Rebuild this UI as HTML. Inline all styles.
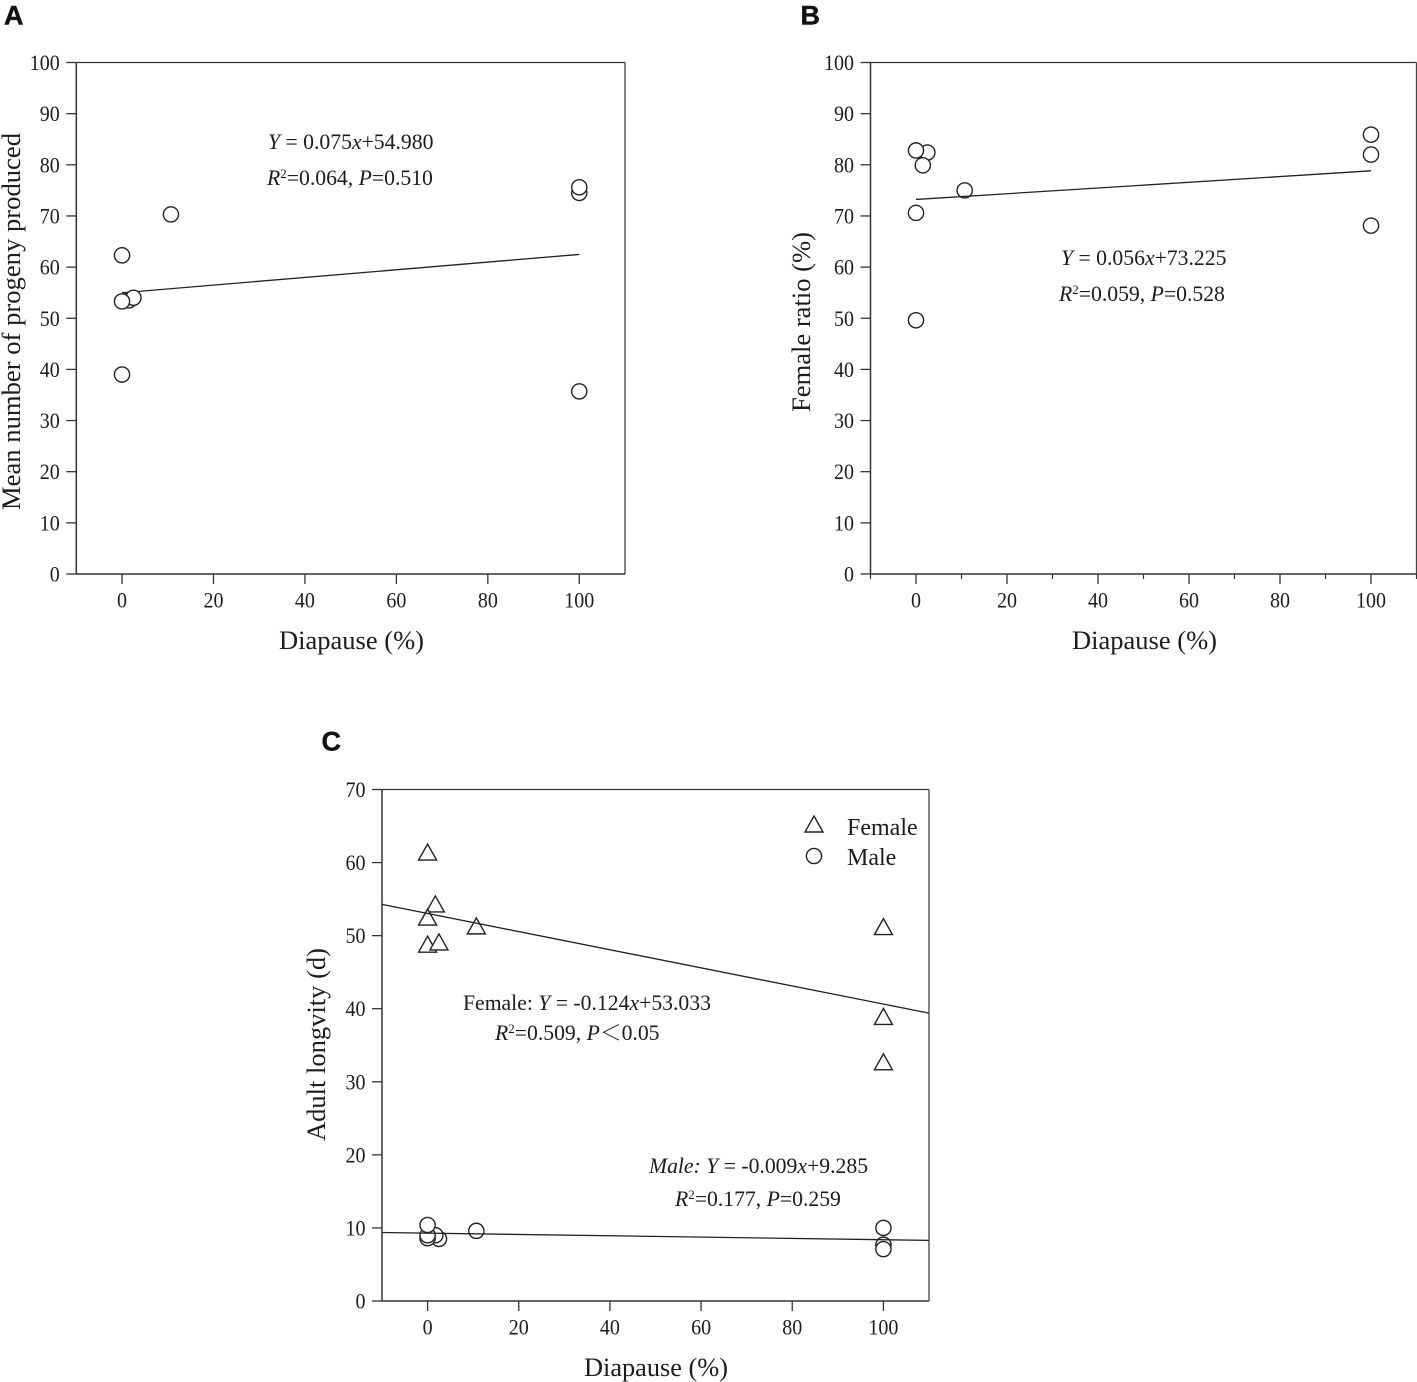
<!DOCTYPE html>
<html lang="en">
<head>
<meta charset="utf-8">
<title>Diapause regression charts</title>
<style>
html,body{margin:0;padding:0;background:#fff;width:1417px;height:1382px;overflow:hidden}
svg{display:block}
text{font-family:"Liberation Serif","Noto Serif CJK SC",serif;fill:#1c1c1c}
.panel-letter{font-family:"Liberation Sans",sans-serif;font-weight:700;font-size:27px;fill:#111;stroke:#111;stroke-width:.4px}
.tick{font-size:22px}
.title{font-size:26.5px}
.note{font-size:21.7px}
.legend-text{font-size:24px}
.sup{font-size:13px}
.it{font-style:italic}
</style>
</head>
<body>
<svg id="figure" xmlns="http://www.w3.org/2000/svg" width="1417" height="1382" viewBox="0 0 1417 1382">
  <rect width="1417" height="1382" fill="#fff"/>

  <text class="panel-letter" x="4" y="24.5">A</text>
  <text class="panel-letter" x="800.5" y="24.5">B</text>
  <text class="panel-letter" x="321.5" y="750.5">C</text>

  <g id="chart-a"></g>
  <g id="chart-b"></g>
  <g id="chart-c"></g>

  <text class="title" x="279" y="649" textLength="145" lengthAdjust="spacingAndGlyphs">Diapause (%)</text>
  <text class="title" x="1072" y="649" textLength="145" lengthAdjust="spacingAndGlyphs">Diapause (%)</text>
  <text class="title" x="584" y="1376" textLength="144" lengthAdjust="spacingAndGlyphs">Diapause (%)</text>

  <text class="title" transform="translate(20,510) rotate(-90)" textLength="377" lengthAdjust="spacingAndGlyphs">Mean number of progeny produced</text>
  <text class="title" transform="translate(810,412) rotate(-90)" textLength="180" lengthAdjust="spacingAndGlyphs">Female ratio (%)</text>
  <text class="title" transform="translate(325,1141) rotate(-90)" textLength="193" lengthAdjust="spacingAndGlyphs">Adult longvity (d)</text>

  <text class="note" x="268" y="149"><tspan class="it">Y</tspan> = 0.075<tspan class="it">x</tspan>+54.980</text>
  <text class="note" x="267" y="185"><tspan class="it">R</tspan><tspan class="sup" dy="-7">2</tspan><tspan dy="7">=0.064, </tspan><tspan class="it">P</tspan>=0.510</text>

  <text class="note" x="1061" y="265"><tspan class="it">Y</tspan> = 0.056<tspan class="it">x</tspan>+73.225</text>
  <text class="note" x="1059" y="301"><tspan class="it">R</tspan><tspan class="sup" dy="-7">2</tspan><tspan dy="7">=0.059, </tspan><tspan class="it">P</tspan>=0.528</text>

  <text class="note" x="463" y="1010">Female: <tspan class="it">Y</tspan> = -0.124<tspan class="it">x</tspan>+53.033</text>
  <text class="note" x="495" y="1040"><tspan class="it">R</tspan><tspan class="sup" dy="-7">2</tspan><tspan dy="7">=0.509, </tspan><tspan class="it">P</tspan>＜0.05</text>

  <text class="note" x="649" y="1173"><tspan class="it">Male: Y</tspan> = -0.009<tspan class="it">x</tspan>+9.285</text>
  <text class="note" x="675" y="1206"><tspan class="it">R</tspan><tspan class="sup" dy="-7">2</tspan><tspan dy="7">=0.177, </tspan><tspan class="it">P</tspan>=0.259</text>

  <g>
    <polygon points="814,816 823,832 805,832" fill="#fff" stroke="#222" stroke-width="1.4"/>
    <text class="legend-text" x="847" y="835">Female</text>
    <circle cx="814" cy="856" r="7.6" fill="#fff" stroke="#222" stroke-width="1.4"/>
    <text class="legend-text" x="847" y="865">Male</text>
  </g>
</svg>

<script>
const xTickLabels = [0, 20, 40, 60, 80, 100];
const xMinorTicksB = [-10, 10, 30, 50, 70, 90, 110];
const yTickLabelsAB = [0, 10, 20, 30, 40, 50, 60, 70, 80, 90, 100];
const yTickLabelsC = [0, 10, 20, 30, 40, 50, 60, 70];

const progenyDiapause = [1.5, 2.5, 0, 0, 0, 10.7, 100, 100, 100];
const progenyValues = [53.5, 54, 62.3, 53.3, 39, 70.3, 74.5, 75.6, 35.7];
const progenyFit = [0.075, 54.98];

const ratioDiapause = [2.5, 0, 1.5, 10.7, 0, 0, 100, 100, 100];
const ratioValues = [82.4, 82.8, 79.9, 75, 70.6, 49.6, 85.9, 82, 68.1];
const ratioFit = [0.056, 73.225];

const femaleDiapause = [0, 1.7, 0, 0, 2.5, 10.7, 100, 100, 100];
const femaleValues = [61.3, 54.2, 52.4, 48.7, 49, 51.2, 51.1, 38.8, 32.6];
const femaleFit = [-0.124, 53.033];

const maleDiapause = [2.5, 1.7, 0, 0, 0, 10.7, 100, 100, 100];
const maleValues = [8.5, 9, 8.6, 9, 10.4, 9.6, 10, 7.7, 7.1];
const maleFit = [-0.009, 9.285];

const SVG_NS = 'http://www.w3.org/2000/svg';

function makeEl(parent, tag, props) {
  const el = document.createElementNS(SVG_NS, tag);
  for (const k in props) el.setAttribute(k, props[k]);
  parent.appendChild(el);
  return el;
}

function makeAxes(frame, yMax) {
  return {
    frame: frame,
    x: function (v) { return frame.left + (v + 10) / 120 * (frame.right - frame.left); },
    y: function (v) { return frame.bottom - v / yMax * (frame.bottom - frame.top); }
  };
}

function labelWidth(v) {
  return String(v).length * 10;
}

function drawFrame(g, ax, yLabels, xLabelBaseline, minorTicks) {
  const f = ax.frame;
  const top = makeEl(g, 'line', { x1: f.left, x2: f.right, y1: f.top, y2: f.top, stroke: '#333', 'stroke-width': 1.3 });
  
  
  const right = makeEl(g, 'line', { x1: f.right, x2: f.right, y1: f.top, y2: f.bottom, stroke: '#444', 'stroke-width': 1.3 });
  
  
  const left = makeEl(g, 'line', { x1: f.left, x2: f.left, y1: f.top, y2: f.bottom, stroke: '#333', 'stroke-width': 1.5 });
  
  
  const bottom = makeEl(g, 'line', { x1: f.left, x2: f.right, y1: f.bottom, y2: f.bottom, stroke: '#333', 'stroke-width': 1.5 });
  
  

  yLabels.forEach(function (v) {
    const py = ax.y(v);
    const t = makeEl(g, 'line', { x1: f.left - 10, x2: f.left, y1: py, y2: py, stroke: '#333', 'stroke-width': 1.3 });
    
    
    const lab = makeEl(g, 'text', { x: f.left - 16.5, y: py + 7.5, 'text-anchor': 'end', class: 'tick', textLength: labelWidth(v), lengthAdjust: 'spacingAndGlyphs' });
    lab.textContent = v;
    
    
  });

  xTickLabels.forEach(function (v) {
    const px = ax.x(v);
    const t = makeEl(g, 'line', { x1: px, x2: px, y1: f.bottom, y2: f.bottom + 10, stroke: '#333', 'stroke-width': 1.3 });
    
    
    const lab = makeEl(g, 'text', { x: px, y: xLabelBaseline, 'text-anchor': 'middle', class: 'tick', textLength: labelWidth(v), lengthAdjust: 'spacingAndGlyphs' });
    lab.textContent = v;
    
    
  });

  minorTicks.forEach(function (v) {
    const px = ax.x(v);
    const t = makeEl(g, 'line', { x1: px, x2: px, y1: f.bottom, y2: f.bottom + 5, stroke: '#333', 'stroke-width': 1.2 });
    
    
  });
}

function drawFit(g, ax, fit, x0, x1, name) {
  const l = makeEl(g, 'line', {
    x1: ax.x(x0), y1: ax.y(fit[0] * x0 + fit[1]),
    x2: ax.x(x1), y2: ax.y(fit[0] * x1 + fit[1]),
    stroke: '#222', 'stroke-width': 1.3
  });
  
  
}

function drawCircles(g, ax, xs, ys, name) {
  xs.forEach(function (v, i) {
    const c = makeEl(g, 'circle', { cx: ax.x(v), cy: ax.y(ys[i]), r: 7.6, fill: '#fff', stroke: '#222', 'stroke-width': 1.4 });
    
    
  });
}

function drawTriangles(g, ax, xs, ys, name) {
  xs.forEach(function (v, i) {
    const px = ax.x(v), py = ax.y(ys[i]);
    const pts = [[px, py - 9], [px + 9, py + 7], [px - 9, py + 7]].map(function (p) { return p.join(','); }).join(' ');
    const t = makeEl(g, 'polygon', { points: pts, fill: '#fff', stroke: '#222', 'stroke-width': 1.4 });
    
    
  });
}

const axA = makeAxes({ left: 76.3, right: 625, top: 62.5, bottom: 574 }, 100);
const gA = document.getElementById('chart-a');
drawFrame(gA, axA, yTickLabelsAB, 607.5, []);
drawFit(gA, axA, progenyFit, 0, 100, 'fit-line-progeny');
drawCircles(gA, axA, progenyDiapause, progenyValues, 'point-progeny');

const axB = makeAxes({ left: 870.5, right: 1416.5, top: 62.5, bottom: 574 }, 100);
const gB = document.getElementById('chart-b');
drawFrame(gB, axB, yTickLabelsAB, 607.5, xMinorTicksB);
drawCircles(gB, axB, ratioDiapause, ratioValues, 'point-female-ratio');
drawFit(gB, axB, ratioFit, 0, 100, 'fit-line-female-ratio');

const axC = makeAxes({ left: 382, right: 929, top: 789.5, bottom: 1301 }, 70);
const gC = document.getElementById('chart-c');
drawFrame(gC, axC, yTickLabelsC, 1334.5, []);
drawTriangles(gC, axC, femaleDiapause, femaleValues, 'point-female-longevity');
drawCircles(gC, axC, maleDiapause, maleValues, 'point-male-longevity');
drawFit(gC, axC, femaleFit, -10, 110, 'fit-line-female-longevity');
drawFit(gC, axC, maleFit, -10, 110, 'fit-line-male-longevity');
</script>
</body>
</html>
